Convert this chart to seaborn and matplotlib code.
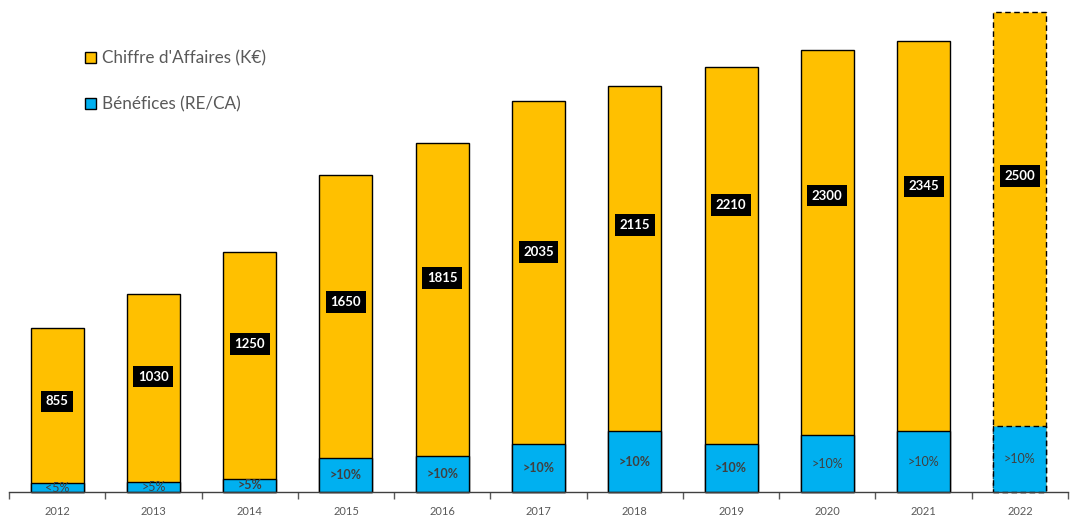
import matplotlib
matplotlib.use("Agg")
import matplotlib.pyplot as plt
import matplotlib.patches as mpatches
import seaborn as sns
import pandas as pd

years = ["2012", "2013", "2014", "2015", "2016", "2017", "2018", "2019", "2020", "2021", "2022"]
ca_values = [855, 1030, 1250, 1650, 1815, 2035, 2115, 2210, 2300, 2345, 2500]
benef_values = [45, 50, 70, 175, 185, 250, 315, 250, 295, 315, 345]
benef_labels = ["<5%", ">5%", ">5%", ">10%", ">10%", ">10%", ">10%", ">10%", ">10%", ">10%", ">10%"]
# height (in K€) at which each CA label sits
ca_label_at = [472, 600, 770, 989, 1114, 1249, 1390, 1494, 1542, 1591, 1645]

YELLOW = "#FFC000"
BLUE = "#00B0F0"
GRAY = "#595959"

sns.set_theme(style="white")
plt.rcParams["font.family"] = ["Lato", "DejaVu Sans"]

df = pd.DataFrame({"year": years, "ca": ca_values, "benef": benef_values})

fig = plt.figure(figsize=(10.79, 5.19), dpi=100)
ax = fig.add_axes([9 / 1079, 27 / 519, 1059 / 1079, (492 - 11.7) / 519])

sns.barplot(data=df, x="year", y="ca", color=YELLOW, saturation=1, width=0.55,
            edgecolor="black", linewidth=1.0, ax=ax)
n = len(years)
sns.barplot(data=df, x="year", y="benef", color=BLUE, saturation=1, width=0.55,
            edgecolor="black", linewidth=1.0, ax=ax)

for i, p in enumerate(ax.patches):
    p.set_clip_on(False)
    if i % n == n - 1:
        p.set_linestyle((0, (4, 2.5)))

weights = ["normal", "normal", "bold", "bold", "bold", "bold", "bold", "bold", "normal", "normal", "normal"]
for i in range(n):
    ax.text(i, ca_label_at[i], str(ca_values[i]), ha="center", va="center",
            color="white", fontsize=9.5, fontweight="bold",
            bbox=dict(boxstyle="square,pad=0.35", facecolor="black", edgecolor="none"))
    ax.text(i, benef_values[i] / 2, benef_labels[i], ha="center", va="center",
            color="#404040", fontsize=9, fontweight=weights[i])

ax.set_xlim(-0.5, n - 0.5)
ax.set_ylim(0, 2500)
ax.set_xlabel("")
ax.set_ylabel("")
ax.set_yticks([])
ax.set_xticks([i - 0.5 for i in range(n + 1)], minor=False)
ax.set_xticklabels([])
ax.set_xticks(range(n), minor=True)
ax.set_xticklabels(years, minor=True, fontsize=8, color=GRAY)
ax.tick_params(axis="x", which="major", direction="out", length=5, width=1, color=GRAY, bottom=True)
ax.tick_params(axis="x", which="minor", length=0, pad=10, bottom=True)
for s in ["top", "right", "left"]:
    ax.spines[s].set_visible(False)
ax.spines["bottom"].set_color("#404040")
ax.spines["bottom"].set_linewidth(1)
ax.set_facecolor("white")

handles = [mpatches.Patch(facecolor=YELLOW, edgecolor="black", linewidth=1, label="Chiffre d'Affaires (K€)"),
           mpatches.Patch(facecolor=BLUE, edgecolor="black", linewidth=1, label="Bénéfices (RE/CA)")]
leg = fig.legend(handles=handles, loc="upper left", bbox_to_anchor=(70 / 1079, 1 - 35 / 519),
                 frameon=False, fontsize=12.3, labelcolor=GRAY, handlelength=0.6, handleheight=0.6,
                 handletextpad=0.35, labelspacing=1.75)

fig.savefig("out.png", dpi=100, facecolor="white")
